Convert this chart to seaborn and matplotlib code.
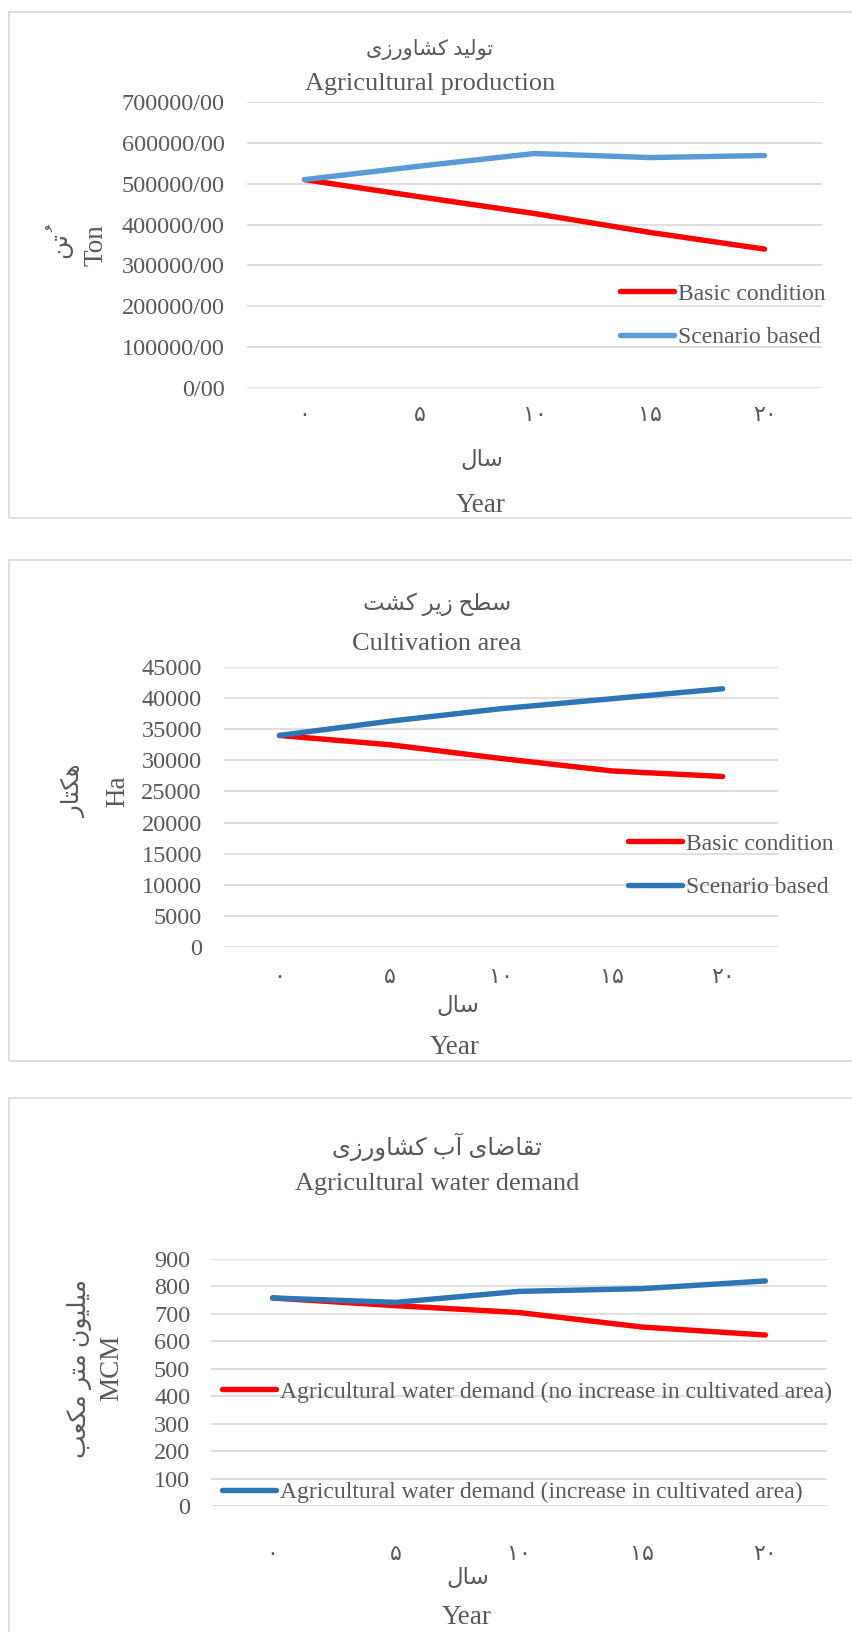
import matplotlib
matplotlib.use('Agg')
import matplotlib.pyplot as plt
import seaborn as sns
import pandas as pd
from matplotlib.patches import Rectangle
from matplotlib.ticker import FuncFormatter

years = [0, 5, 10, 15, 20]
year_labels = ['۰', '۵', '۱۰', '۱۵', '۲۰']

prod_basic = [510000, 468000, 427000, 381000, 340000]
prod_scenario = [510000, 543000, 574000, 564000, 569000]
area_basic = [34000, 32500, 30300, 28300, 27400]
area_scenario = [34000, 36300, 38300, 39900, 41500]
water_no_increase = [758, 730, 705, 652, 623]
water_increase = [758, 742, 782, 792, 820]

# matplotlib has no RTL shaping, so pick the joined glyph forms by hand
FA_FORMS = {
    'ا': ('\ufe8d', '\ufe8e'), 'آ': ('\ufe81', '\ufe82'),
    'د': ('\ufea9', '\ufeaa'), 'ر': ('\ufead', '\ufeae'),
    'ز': ('\ufeaf', '\ufeb0'), 'و': ('\ufeed', '\ufeee'),
    'ب': ('\ufe8f', '\ufe90', '\ufe91', '\ufe92'),
    'ت': ('\ufe95', '\ufe96', '\ufe97', '\ufe98'),
    'ح': ('\ufea1', '\ufea2', '\ufea3', '\ufea4'),
    'س': ('\ufeb1', '\ufeb2', '\ufeb3', '\ufeb4'),
    'ش': ('\ufeb5', '\ufeb6', '\ufeb7', '\ufeb8'),
    'ض': ('\ufebd', '\ufebe', '\ufebf', '\ufec0'),
    'ط': ('\ufec1', '\ufec2', '\ufec3', '\ufec4'),
    'ع': ('\ufec9', '\ufeca', '\ufecb', '\ufecc'),
    'ق': ('\ufed5', '\ufed6', '\ufed7', '\ufed8'),
    'ل': ('\ufedd', '\ufede', '\ufedf', '\ufee0'),
    'م': ('\ufee1', '\ufee2', '\ufee3', '\ufee4'),
    'ن': ('\ufee5', '\ufee6', '\ufee7', '\ufee8'),
    'ه': ('\ufee9', '\ufeea', '\ufeeb', '\ufeec'),
    'ک': ('\ufb8e', '\ufb8f', '\ufb90', '\ufb91'),
    'ی': ('\ufbfc', '\ufbfd', '\ufbfe', '\ufbff'),
}
MARKS = '\u064f'


def fa(text):
    clusters = []
    for c in text:
        if c in MARKS and clusters:
            clusters[-1] += c
        else:
            clusters.append(c)
    bases = [cl[0] for cl in clusters]
    shaped = []
    for k, cl in enumerate(clusters):
        forms = FA_FORMS.get(cl[0])
        if forms is None:
            shaped.append(cl)
            continue
        prev = bases[k - 1] if k > 0 else ''
        nxt = bases[k + 1] if k + 1 < len(bases) else ''
        jp = len(FA_FORMS.get(prev, ())) == 4
        jn = len(forms) == 4 and nxt in FA_FORMS
        idx = 3 if jp and jn else 1 if jp else 2 if jn else 0
        shaped.append(forms[idx] + cl[1:])
    return ''.join(reversed(shaped))


sns.set_style('white')
plt.rcParams['font.family'] = ['Liberation Serif', 'DejaVu Sans']
TXT = '#595959'
GRID = '#D9D9D9'
RED = '#FF0000'

W, H = 852, 1632
fig = plt.figure(figsize=(W / 100, H / 100), dpi=100)


def fx(px):
    return px / W


def fy(py):
    return 1 - py / H


def add_axes(left, right, top, bottom):
    return fig.add_axes([fx(left), fy(bottom), fx(right - left), (bottom - top) / H])


def ftext(x, y, s, size, rot=0):
    fig.text(fx(x), fy(y), s, ha='center', va='center', fontsize=size, color=TXT, rotation=rot)


def draw_panel(ax, basic, scenario, names, colors, ymax, ystep, xpad, ypad, fmt=None):
    df = pd.DataFrame({
        'year': years * 2,
        'value': basic + scenario,
        'series': [names[0]] * len(years) + [names[1]] * len(years),
    })
    sns.lineplot(data=df, x='year', y='value', hue='series', palette=colors,
                 linewidth=3.9, ax=ax, legend=False)
    for ln in ax.get_lines():
        ln.set_solid_capstyle('round')
        ln.set_solid_joinstyle('round')
    ax.set_xlim(-2.5, 22.5)
    ax.set_ylim(0, ymax)
    ax.set_yticks(range(0, ymax + 1, ystep))
    ax.set_xticks(years)
    ax.set_xticklabels(year_labels)
    if fmt:
        ax.yaxis.set_major_formatter(FuncFormatter(fmt))
    ax.grid(axis='y', color=GRID, lw=1.2)
    ax.grid(axis='x', visible=False)
    ax.set_axisbelow(True)
    for s in ax.spines.values():
        s.set_visible(False)
    ax.tick_params(axis='y', length=0, pad=ypad, labelsize=17.5, labelcolor=TXT)
    ax.tick_params(axis='x', length=0, pad=xpad, labelsize=16, labelcolor=TXT)
    ax.set_xlabel('')
    ax.set_ylabel('')


def panel_box(top, bottom):
    fig.add_artist(Rectangle((fx(9), fy(bottom)), fx(860), (bottom - top) / H,
                             transform=fig.transFigure, fill=False,
                             edgecolor=GRID, lw=1.2))


def add_legend(ax, labels, x, y, spacing):
    ax.legend(ax.get_lines(), labels, loc='upper left',
              bbox_to_anchor=(fx(x), fy(y)), bbox_transform=fig.transFigure,
              frameon=False, fontsize=17, labelcolor=TXT, handlelength=2.3,
              handletextpad=0.15, labelspacing=spacing, borderpad=0, borderaxespad=0)


# panel 1: agricultural production
panel_box(12, 518)
ax1 = add_axes(247, 822, 102, 388)
labels1 = ['Basic condition', 'Scenario based']
draw_panel(ax1, prod_basic, prod_scenario, labels1, [RED, '#5B9BD5'],
           700000, 100000, 14, 16, fmt=lambda v, p: f'{v:.0f}/00')
add_legend(ax1, labels1, 620, 283, 0.95)
ftext(430, 49, fa('تولید کشاورزی'), 15)
ftext(430, 84, 'Agricultural production', 19)
ftext(58, 245, fa('تُن'), 18, 90)
ftext(96, 245, 'Ton', 19.5, 90)
ftext(482, 460, fa('سال'), 16.5)
ftext(481, 505, 'Year', 19.5)

# panel 2: cultivation area
panel_box(560, 1061)
ax2 = add_axes(224, 778, 667, 947)
draw_panel(ax2, area_basic, area_scenario, labels1, [RED, '#2E75B6'],
           45000, 5000, 16, 16)
add_legend(ax2, labels1, 628, 833, 0.92)
ftext(437, 604, fa('سطح زیر کشت'), 16.5)
ftext(437, 644, 'Cultivation area', 19)
ftext(74, 791, fa('هکتار'), 17.5, 90)
ftext(118, 791, 'Ha', 19.5, 90)
ftext(458, 1007, fa('سال'), 16.5)
ftext(455, 1047, 'Year', 19.5)

# panel 3: agricultural water demand
panel_box(1098, 1700)
ax3 = add_axes(211, 827, 1259, 1506)
labels3 = ['Agricultural water demand (no increase in cultivated area)',
           'Agricultural water demand (increase in cultivated area)']
draw_panel(ax3, water_no_increase, water_increase, labels3, [RED, '#2E75B6'],
           900, 100, 29, 15)
add_legend(ax3, labels3, 222, 1381, 3.35)
ftext(437, 1147, fa('تقاضای آب کشاورزی'), 17.5)
ftext(437, 1184, 'Agricultural water demand', 19)
ftext(79, 1368, fa('میلیون متر مکعب'), 18, 90)
ftext(112, 1368, 'MCM', 19.5, 90)
ftext(468, 1579, fa('سال'), 16.5)
ftext(467, 1617, 'Year', 19.5)

fig.savefig('out.png', dpi=100)
